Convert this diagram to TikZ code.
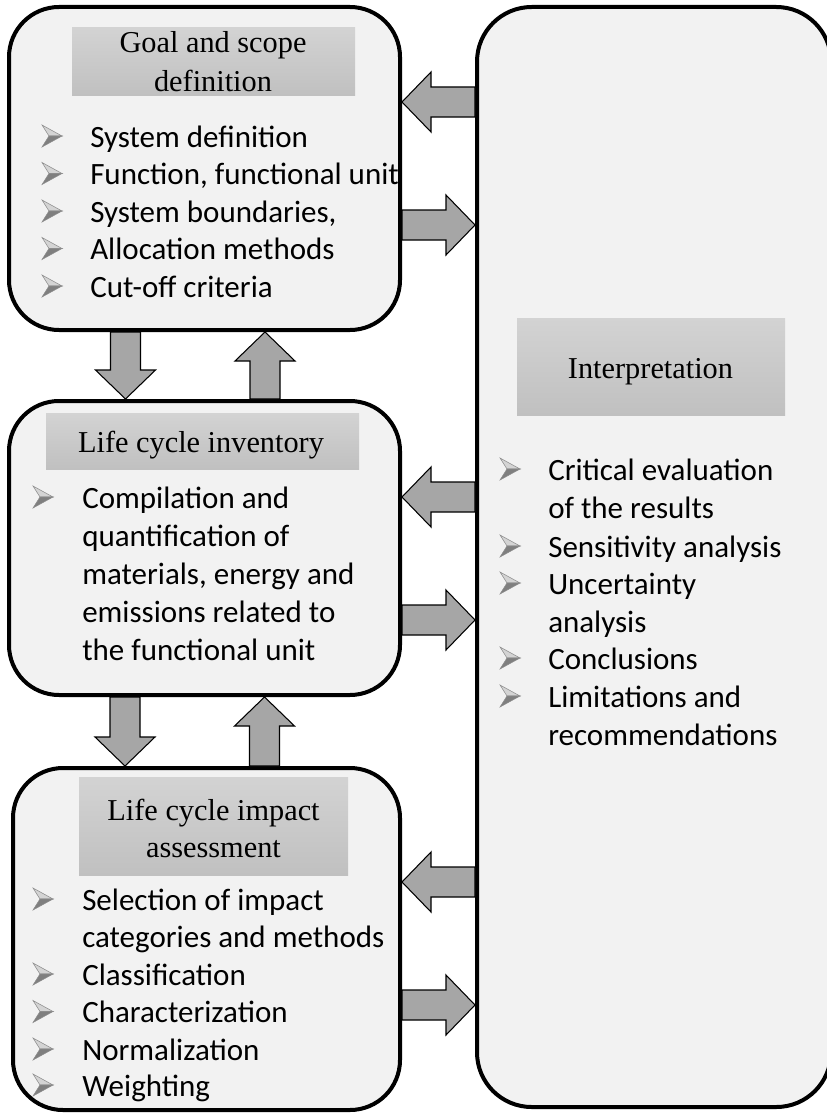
\documentclass[tikz,border=0pt]{standalone}
\usepackage{fontspec}
\setmainfont{Carlito}
\newfontfamily\titleserif{Liberation Serif}
\usetikzlibrary{calc}

\definecolor{boxfill}{HTML}{F2F2F2}
\definecolor{hdtop}{HTML}{D3D3D3}
\definecolor{hdbot}{HTML}{C0C0C0}
\definecolor{arrowgray}{HTML}{A6A6A6}
\definecolor{bulletdark}{HTML}{7F7F7F}
\definecolor{bulletlight}{HTML}{D4D4D4}
\definecolor{bulletedge}{HTML}{8C8C8C}

% block arrow geometry: half shaft width, half head width, head length
\newcommand\arrHS{11.25pt}
\newcommand\arrHH{22.5pt}
\newcommand\arrHL{21.75pt}

\begin{document}
\begin{tikzpicture}[x=0.75pt,y=-0.75pt,
  box/.style={draw=black, line width=3pt, fill=boxfill, rounded corners=37.5pt, inner sep=0pt},
  header/.style={rectangle, inner sep=0pt, top color=hdtop, bottom color=hdbot, draw=none},
  title/.style={anchor=base, inner sep=0pt, font=\titleserif\fontsize{22.75pt}{27pt}\selectfont},
  item/.style={anchor=base west, inner sep=0pt, font=\fontsize{23.25pt}{28pt}\selectfont},
  % three-dimensional arrowhead bullet, sitting on the baseline
  bulletmark/.pic={
    \filldraw[draw=bulletedge, fill=bulletlight, line width=0.4pt, line join=miter]
      (0,-22) -- (20,-11) -- (7,-11) -- cycle;
    \filldraw[draw=bulletedge, fill=bulletdark, line width=0.4pt, line join=miter]
      (0,0) -- (20,-11) -- (7,-11) -- cycle;
  },
  blockarrow/.style={fill=arrowgray, draw=black, line width=0.8pt, line join=miter,
    to path={
      let \p1=(\tikztostart), \p2=(\tikztotarget),
          \n1={veclen(\x2-\x1,\y2-\y1)},
          \n2={(\x2-\x1)/\n1}, \n3={(\y2-\y1)/\n1}
      in
      ({\x1-\n3*\arrHS},{\y1+\n2*\arrHS})
      -- ({\x2-\n2*\arrHL-\n3*\arrHS},{\y2-\n3*\arrHL+\n2*\arrHS})
      -- ({\x2-\n2*\arrHL-\n3*\arrHH},{\y2-\n3*\arrHL+\n2*\arrHH})
      -- (\x2,\y2)
      -- ({\x2-\n2*\arrHL+\n3*\arrHH},{\y2-\n3*\arrHL-\n2*\arrHH})
      -- ({\x2-\n2*\arrHL+\n3*\arrHS},{\y2-\n3*\arrHL-\n2*\arrHS})
      -- ({\x1+\n3*\arrHS},{\y1-\n2*\arrHS})
      -- cycle}}
]
% page
\fill[white] (0,0) rectangle (827,1113);
\useasboundingbox (0,0) rectangle (827,1113);

% phase boxes (the interpretation box runs past the right edge)
\node[box, minimum width=293.25pt, minimum height=242.25pt] (goal)   at (204.5,168.5) {};
\node[box, minimum width=293.25pt, minimum height=220.5pt]  (inv)    at (204.5,548)   {};
\node[box, minimum width=290.25pt, minimum height=256.5pt]  (lcia)   at (206.5,939)   {};
\node[box, rounded corners=41pt, minimum width=265.5pt, minimum height=825pt] (interp) at (654,557) {};

% title bars
\node[header, minimum width=212.25pt, minimum height=50.25pt] (goalhd)   at (213.5,61.5) {};
\node[header, minimum width=234.75pt, minimum height=42pt]    (invhd)    at (202.5,441)  {};
\node[header, minimum width=201.75pt, minimum height=73.5pt]  (lciahd)   at (213.5,826)  {};
\node[header, minimum width=201pt,    minimum height=72.75pt] (interphd) at (651,366.5)  {};

\node[title] (goalt1)   at (213,53)    {Goal and scope};
\node[title] (goalt2)   at (213,91)    {definition};
\node[title] (invt)     at (201,452)   {Life cycle inventory};
\node[title] (lciat1)   at (213.5,820) {Life cycle impact};
\node[title] (lciat2)   at (213.5,857) {assessment};
\node[title] (interpt)  at (650.5,378) {Interpretation};

% goal and scope items
\foreach \yy in {147,184.5,222,259.5,297} \pic at (42,\yy) {bulletmark};
\node[item] (g1) at (90,147)   {System definition};
\node[item] (g2) at (90,184.5) {Function, functional unit};
\node[item] (g3) at (90,222)   {System boundaries,};
\node[item] (g4) at (90,259.5) {Allocation methods};
\node[item] (g5) at (90,297)   {Cut-off criteria};

% inventory items
\pic at (33,508) {bulletmark};
\node[item] (i1) at (82,508) {Compilation and};
\node[item] (i2) at (82,546) {quantification of};
\node[item] (i3) at (82,584) {materials, energy and};
\node[item] (i4) at (82,622) {emissions related to};
\node[item] (i5) at (82,660) {the functional unit};

% impact assessment items
\foreach \yy in {910,985,1022.5,1060,1096} \pic at (33,\yy) {bulletmark};
\node[item] (a1) at (82,910)    {Selection of impact};
\node[item] (a2) at (82,947.5)  {categories and methods};
\node[item] (a3) at (82,985)    {Classification};
\node[item] (a4) at (82,1022.5) {Characterization};
\node[item] (a5) at (82,1060)   {Normalization};
\node[item] (a6) at (82,1096)   {Weighting};

% interpretation items
\foreach \yy in {480,557,594,669,707} \pic at (500,\yy) {bulletmark};
\node[item] (r1) at (548,480) {Critical evaluation};
\node[item] (r2) at (548,518) {of the results};
\node[item] (r3) at (548,557) {Sensitivity analysis};
\node[item] (r4) at (548,594) {Uncertainty};
\node[item] (r5) at (548,632) {analysis};
\node[item] (r6) at (548,669) {Conclusions};
\node[item] (r7) at (548,707) {Limitations and};
\node[item] (r8) at (548,745) {recommendations};

% exchanges with interpretation
\coordinate (gl) at ($(goal.east)+(0,-66.5)$);
\coordinate (gr) at ($(goal.east)+(0,56.5)$);
\coordinate (il) at ($(inv.east)+(0,-51)$);
\coordinate (ir) at ($(inv.east)+(0,72)$);
\coordinate (al) at ($(lcia.east)+(0,-57)$);
\coordinate (ar) at ($(lcia.east)+(0,66)$);
\draw[blockarrow] (interp.west |- gl) to (gl);
\draw[blockarrow] (gr) to (interp.west |- gr);
\draw[blockarrow] (interp.west |- il) to (il);
\draw[blockarrow] (ir) to (interp.west |- ir);
\draw[blockarrow] (interp.west |- al) to (al);
\draw[blockarrow] (ar) to (interp.west |- ar);

% exchanges between phases
\coordinate (gd) at ($(goal.south)+(-79,0)$);
\coordinate (iu) at ($(inv.north)+(60.5,0)$);
\coordinate (id) at ($(inv.south)+(-79.5,0)$);
\coordinate (au) at ($(lcia.north)+(58,0)$);
\draw[blockarrow] (gd) to (inv.north -| gd);
\draw[blockarrow] (iu) to (goal.south -| iu);
\draw[blockarrow] (id) to (lcia.north -| id);
\draw[blockarrow] (au) to (inv.south -| au);
\end{tikzpicture}
\end{document}
